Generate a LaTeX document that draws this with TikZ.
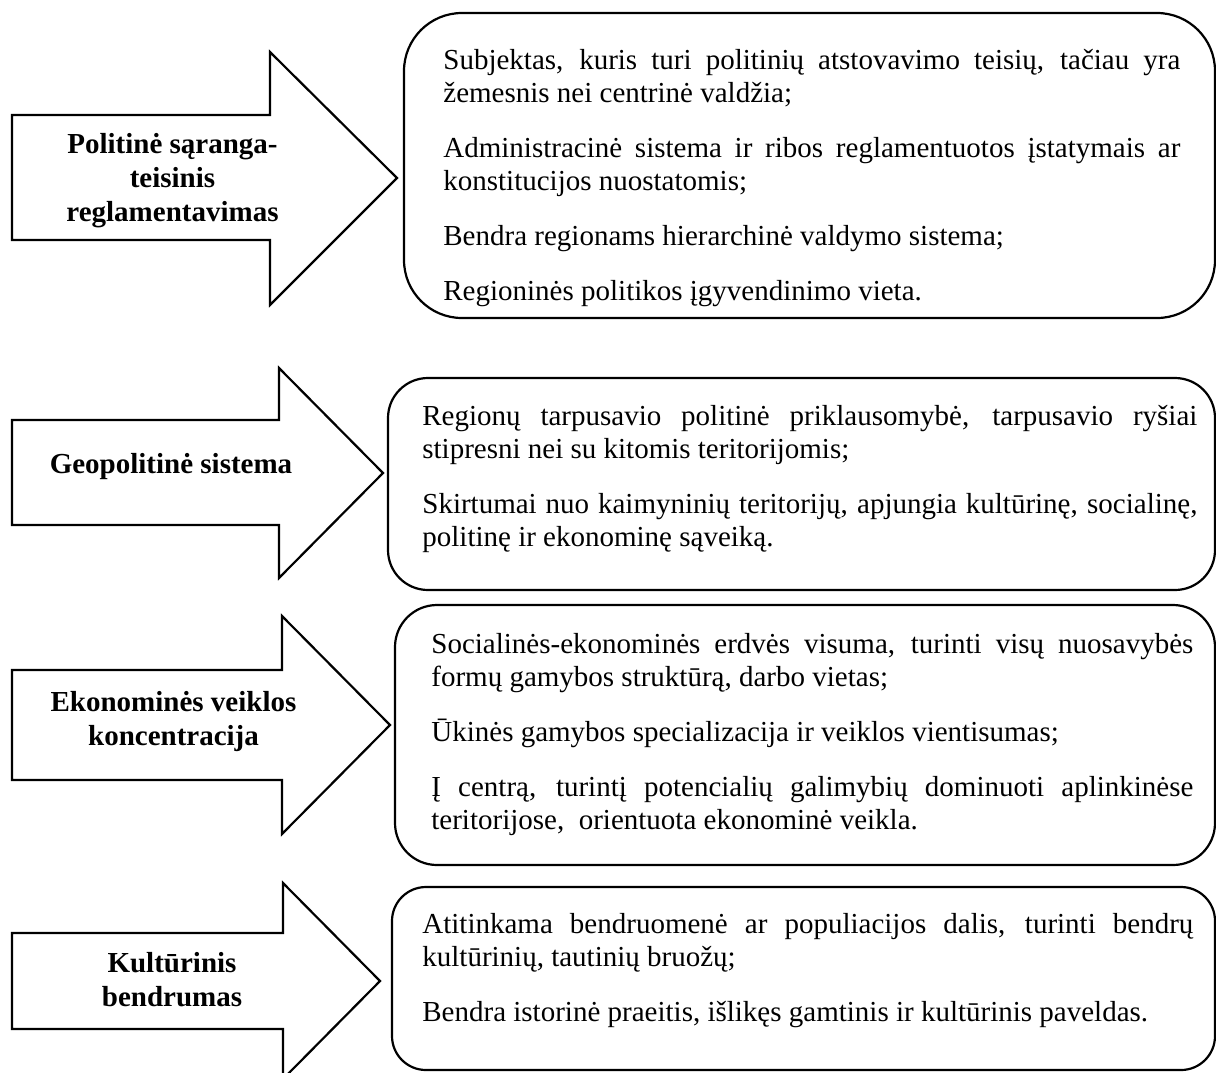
\documentclass[tikz,border=0pt]{standalone}
\usepackage{fontspec}
\setmainfont{Liberation Serif}
\usepackage{tikz}
\hyphenpenalty=10000
\exhyphenpenalty=10000

\begin{document}
\begin{tikzpicture}
[
    x = 0.5pt, y = -0.5pt,
    blockarrow/.style = {draw, line width = 1.1pt, line join = miter},
    infobox/.style = {draw, line width = 1.1pt},
    headtext/.style = {anchor = base, inner sep = 0pt, font = \fontsize{14.5}{17}\selectfont\bfseries},
    infotext/.style = {anchor = base west, inner sep = 0pt, font = \fontsize{14.5}{16.5}\selectfont}
]
\useasboundingbox (0,0) rectangle (1216,1072);

\draw[blockarrow] (12,115) -- (270,115) -- (270,52) -- (397,178) -- (270,305) -- (270,240) -- (12,240) -- cycle;
\node[headtext] (saranga) at (172.5,153) {\parbox[t]{130pt}{\centering Politinė sąranga-\\teisinis\\reglamentavimas}};
\draw[infobox, rounded corners = 29pt] (404,13) rectangle (1215,318);
\node[infotext] (sarangatext) at (443,69) {\parbox[t]{368.5pt}{
    Subjektas, kuris turi politinių atstovavimo teisių, tačiau yra\linebreak žemesnis nei centrinė valdžia;\par\vspace{11pt}
    Administracinė sistema ir ribos reglamentuotos įstatymais ar\linebreak konstitucijos nuostatomis;\par\vspace{11pt}
    Bendra regionams hierarchinė valdymo sistema;\par\vspace{11pt}
    Regioninės politikos įgyvendinimo vieta.}};

\draw[blockarrow] (12,420) -- (279,420) -- (279,368) -- (383,473) -- (279,578) -- (279,525) -- (12,525) -- cycle;
\node[headtext] (geopolitine) at (171,473) {Geopolitinė sistema};
\draw[infobox, rounded corners = 20pt] (388,378) rectangle (1215,590);
\node[infotext] (geopolitinetext) at (422,425) {\parbox[t]{387.5pt}{
    Regionų tarpusavio politinė priklausomybė, tarpusavio ryšiai\linebreak stipresni nei su kitomis teritorijomis;\par\vspace{11pt}
    Skirtumai nuo kaimyninių teritorijų, apjungia kultūrinę, socialinę,\linebreak politinę ir ekonominę sąveiką.}};

\draw[blockarrow] (12,670) -- (282,670) -- (282,616) -- (390,725) -- (282,834) -- (282,780) -- (12,780) -- cycle;
\node[headtext] (ekonomines) at (173.5,711) {\parbox[t]{130pt}{\centering Ekonominės veiklos\\koncentracija}};
\draw[infobox, rounded corners = 21pt] (395,605) rectangle (1215,865);
\node[infotext] (ekonominestext) at (431,653) {\parbox[t]{381pt}{
    Socialinės-ekonominės erdvės visuma, turinti visų nuosavybės\linebreak formų gamybos struktūrą, darbo vietas;\par\vspace{11pt}
    Ūkinės gamybos specializacija ir veiklos vientisumas;\par\vspace{11pt}
    Į centrą, turintį potencialių galimybių dominuoti aplinkinėse\linebreak teritorijose, \ orientuota ekonominė veikla.}};

\draw[blockarrow] (12,933) -- (283,933) -- (283,883) -- (380,981) -- (283,1079) -- (283,1029) -- (12,1029) -- cycle;
\node[headtext] (kulturinis) at (172,972) {\parbox[t]{130pt}{\centering Kultūrinis\\bendrumas}};
\draw[infobox, rounded corners = 17pt] (392,887) rectangle (1215,1070);
\node[infotext] (kulturinistext) at (422,933) {\parbox[t]{385.5pt}{
    Atitinkama bendruomenė ar populiacijos dalis, turinti bendrų\linebreak kultūrinių, tautinių bruožų;\par\vspace{11pt}
    Bendra istorinė praeitis, išlikęs gamtinis ir kultūrinis paveldas.}};
\end{tikzpicture}
\end{document}
